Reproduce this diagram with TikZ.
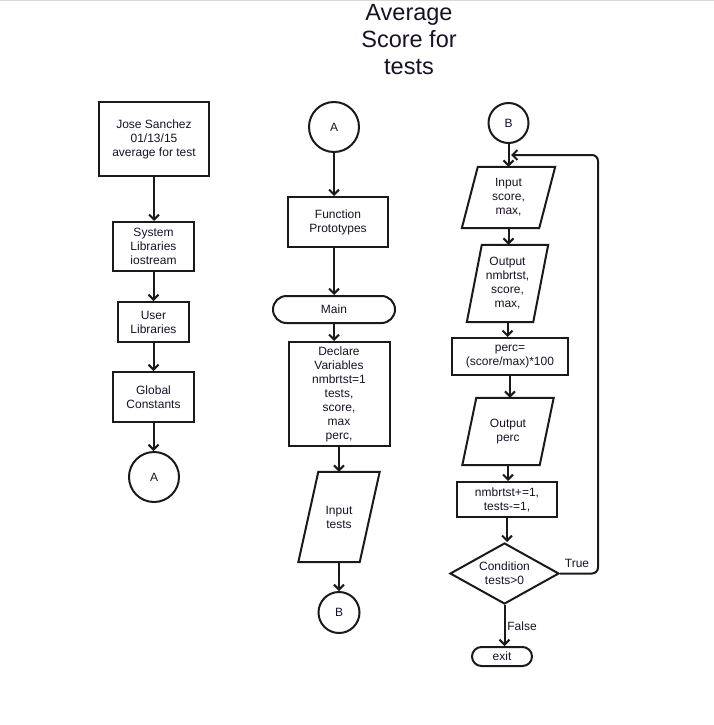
\documentclass[tikz,border=0pt]{standalone}
\usepackage{fontspec}
\setmainfont{Liberation Sans}
\usepackage{xcolor}
\usetikzlibrary{arrows.meta,shapes.geometric}
\definecolor{fdark}{HTML}{1a1a1a}
\definecolor{ftext}{HTML}{1a1026}
\definecolor{fborder}{HTML}{d9d9d9}

\tikzset{
	every node/.style={font=\fontsize{12}{14}\selectfont, text=ftext, align=center, inner sep=0pt},
	box/.style={draw=fdark, line width=2pt, rectangle},
	term/.style={draw=fdark, line width=2pt, rectangle, rounded corners=#1},
	conn/.style={draw=fdark, line width=2pt, circle, minimum size=#1},
	iobody/.style={rectangle},
	ioline/.style={draw=fdark, line width=2pt, line join=miter},
	decision/.style={draw=fdark, line width=2pt, diamond, aspect=1.79},
	arr/.style={draw=fdark, line width=2pt, -{Straight Barb[length=5pt,width=10pt]}}
}

\begin{document}
\begin{tikzpicture}[x=1pt, y=-1pt]
	\useasboundingbox (0,0) rectangle (714,725);
	\draw[color=fborder, line width=1pt] (0,1) -- (714,1);

	% title
	\node[font=\fontsize{23.5}{27}\selectfont] (title) at (409,40) {Average\\Score for\\tests};

	% left column
	\node[box, minimum width=110, minimum height=74] (header) at (154,139) {Jose Sanchez\\01/13/15\\average for test};
	\node[box, minimum width=81, minimum height=49] (syslib) at (153.5,246.5) {System\\Libraries\\iostream};
	\node[box, minimum width=71, minimum height=40] (usrlib) at (153.5,322) {User\\Libraries};
	\node[box, minimum width=81, minimum height=50] (globals) at (153.5,397) {Global\\Constants};
	\node[conn=50] (outA) at (154,477) {A};
	\draw[arr] (header.south) -- (header.south |- syslib.north);
	\draw[arr] (syslib.south) -- (syslib.south |- usrlib.north);
	\draw[arr] (usrlib.south) -- (usrlib.south |- globals.north);
	\draw[arr] (globals.south) -- (globals.south |- outA.north);

	% middle column
	\node[conn=50] (inA) at (334,127) {A};
	\node[box, minimum width=100, minimum height=50] (protos) at (338,222) {Function\\Prototypes};
	\node[term=13.5pt, minimum width=122, minimum height=27] (main) at (334,309.5) {Main};
	\node[box, minimum width=101, minimum height=104] (declare) at (339,394) {Declare\\Variables\\nmbrtst=1\\tests,\\score,\\max\\perc,};
	\node[iobody, minimum width=61, minimum height=90] (intests) at (339,517) {Input\\tests};
	\draw[ioline] ([xshift=10]intests.north west) -- ([xshift=10]intests.north east) -- ([xshift=-10]intests.south east) -- ([xshift=-10]intests.south west) -- cycle;
	\node[conn=41] (outB) at (339,612.5) {B};
	\draw[arr] (inA.south) -- (inA.south |- protos.north);
	\draw[arr] (inA.south |- protos.south) -- (main.north);
	\draw[arr] (main.south) -- (main.south |- declare.north);
	\draw[arr] (declare.south) -- (intests.north);
	\draw[arr] (intests.south) -- (outB.north);

	% right column
	\node[conn=40] (inB) at (508.5,123) {B};
	\node[iobody, minimum width=77, minimum height=61] (inscore) at (508.5,197.5) {Input\\score,\\max,};
	\draw[ioline] ([xshift=8]inscore.north west) -- ([xshift=8]inscore.north east) -- ([xshift=-8]inscore.south east) -- ([xshift=-8]inscore.south west) -- cycle;
	\node[iobody, minimum width=66, minimum height=77] (outscore) at (507.5,283.5) {Output\\nmbrtst,\\score,\\max,};
	\draw[ioline] ([xshift=7.5]outscore.north west) -- ([xshift=7.5]outscore.north east) -- ([xshift=-7.5]outscore.south east) -- ([xshift=-7.5]outscore.south west) -- cycle;
	\node[box, minimum width=116, minimum height=37] (calc) at (510,356.5) {perc=\\(score/max)*100};
	\node[iobody, minimum width=77, minimum height=67] (outperc) at (508,431.5) {Output\\perc};
	\draw[ioline] ([xshift=7]outperc.north west) -- ([xshift=7]outperc.north east) -- ([xshift=-7]outperc.south east) -- ([xshift=-7]outperc.south west) -- cycle;
	\node[box, minimum width=100, minimum height=35] (update) at (507,499.5) {nmbrtst+=1,\\tests-=1,};
	\node[decision, minimum width=109, minimum height=61] (cond) at (504.5,573.5) {Condition\\tests>0};
	\node[term=9.5pt, minimum width=60, minimum height=19] (exit) at (502,656.5) {exit};
	\coordinate (loop) at (511,155);
	\draw[arr] (inB.south) -- (inB.south |- inscore.north);
	\draw[arr] (inscore.south) -- (inscore.south |- outscore.north);
	\draw[arr] (outscore.south) -- (outscore.south |- calc.north);
	\draw[arr] (calc.south) -- (calc.south |- outperc.north);
	\draw[arr] (outperc.south) -- (outperc.south |- update.north);
	\draw[arr] (update.south) -- (update.south |- cond.north);
	\draw[arr] (cond.south) -- (cond.south |- exit.north);
	\draw[arr, rounded corners=6pt] (cond.east) -- (598,573.5) |- (loop);
	\node (truelbl) at (577,563) {True};
	\node (falselbl) at (522,626) {False};
\end{tikzpicture}
\end{document}
